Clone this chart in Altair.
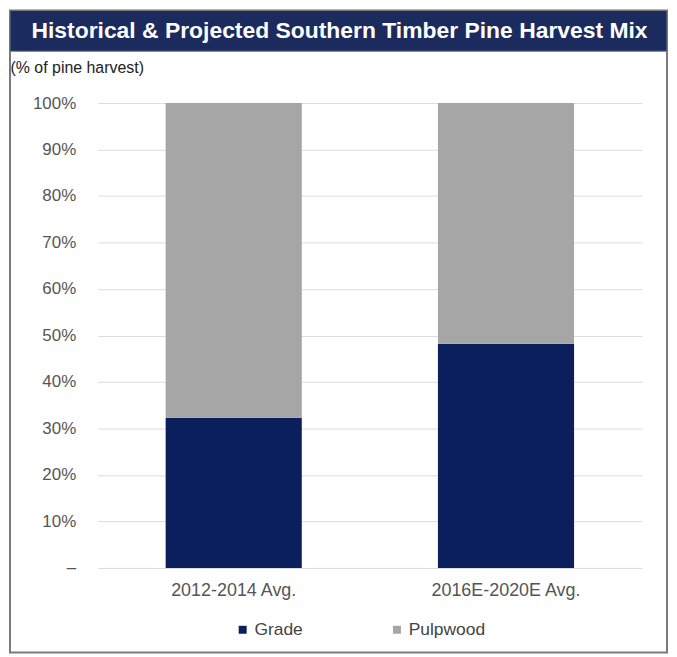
import altair as alt
import pandas as pd

title_text = "Historical & Projected Southern Timber Pine Harvest Mix"
categories = ["2012-2014 Avg.", "2016E-2020E Avg."]
grade = [32.3, 48.2]
pulpwood = [67.7, 51.8]
series = ["Grade", "Pulpwood"]
colors = ["#0b1f5c", "#a6a6a6"]
y_ticks = [0, 10, 20, 30, 40, 50, 60, 70, 80, 90, 100]

rows = []
for c, g, p in zip(categories, grade, pulpwood):
    rows.append({"cat": c, "series": "Grade", "value": g, "ord": 0})
    rows.append({"cat": c, "series": "Pulpwood", "value": p, "ord": 1})
df = pd.DataFrame(rows)

FONT = "Liberation Sans"
W, H = 547, 467

bars = alt.Chart(df).mark_bar().encode(
    x=alt.X("cat:N", sort=categories,
            scale=alt.Scale(paddingInner=0.5, paddingOuter=0.25),
            axis=alt.Axis(title=None, labelAngle=0, ticks=False, domain=False, grid=False,
                          labelFontSize=18, labelColor="#555555", labelFont=FONT,
                          labelPadding=14)),
    y=alt.Y("value:Q", stack="zero",
            scale=alt.Scale(domain=[0, 100], nice=False),
            axis=alt.Axis(values=y_ticks, title="(% of pine harvest)",
                          labelExpr="datum.value == 0 ? '–' : datum.value + '%'",
                          ticks=False, domain=False, gridColor="#dcdcdc",
                          labelFontSize=17, labelColor="#555555", labelFont=FONT,
                          labelPadding=22,
                          titleAngle=0, titleAlign="left", titleBaseline="middle",
                          titleX=-88, titleY=-36, titleFont=FONT, titleFontSize=16,
                          titleFontWeight="normal", titleColor="#222222")),
    color=alt.Color("series:N", sort=series,
                    scale=alt.Scale(domain=series, range=colors),
                    legend=alt.Legend(title=None, orient="none", direction="horizontal",
                                      legendX=137, legendY=520,
                                      symbolType="square", symbolSize=64,
                                      symbolStrokeWidth=0, labelFontSize=17.5,
                                      labelFont=FONT, labelColor="#444444",
                                      labelOffset=3, columnPadding=85)),
    order=alt.Order("ord:Q"),
)

tdf = pd.DataFrame({"t": [title_text]})

frame = alt.Chart(tdf).mark_rect(fill="transparent", stroke="#7a7a7a", strokeWidth=2).encode(
    x=alt.value(-88), x2=alt.value(572), y=alt.value(-93), y2=alt.value(552)
)
banner = alt.Chart(tdf).mark_rect(fill="#1b2b5e", stroke="#7a7a7a", strokeWidth=1).encode(
    x=alt.value(-88), x2=alt.value(572), y=alt.value(-93), y2=alt.value(-52)
)
title = alt.Chart(tdf).mark_text(color="white", fontSize=23, fontWeight="bold",
                                 font=FONT, align="center", baseline="middle").encode(
    x=alt.value(243), y=alt.value(-72), text="t:N"
)

chart = alt.layer(frame, banner, title, bars).properties(
    width=W, height=H,
    autosize=alt.AutoSizeParams(type="none"),
    padding={"left": 90, "top": 94, "right": 27, "bottom": 86},
).configure(background="white").configure_view(stroke="transparent", strokeWidth=0)

chart.save("out.html", embed_options={"renderer": "svg", "actions": False})
